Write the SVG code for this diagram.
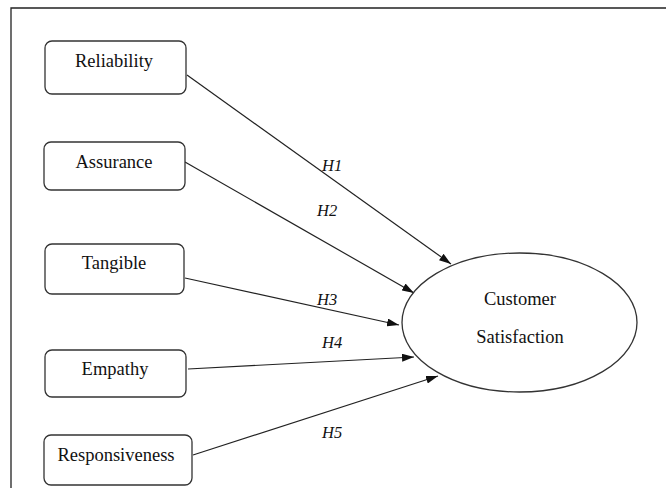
<svg xmlns="http://www.w3.org/2000/svg" width="666" height="488" viewBox="0 0 666 488">
<defs>
<marker id="arr" viewBox="0 0 12 8" refX="12" refY="4" markerWidth="12" markerHeight="8" markerUnits="userSpaceOnUse" orient="auto">
<path d="M0,0 L12,4 L0,8 Z" fill="#111"/>
</marker>
</defs>
<style>
.box{fill:#fff;stroke:#333;stroke-width:1.3}
.t{font-family:"Liberation Serif","Times New Roman",serif;font-size:18.5px;fill:#111;text-anchor:middle}
.h{font-family:"Liberation Serif","Times New Roman",serif;font-size:16.5px;font-style:italic;fill:#111}
.c{stroke:#222;stroke-width:1.2;fill:none;marker-end:url(#arr)}
</style>
<rect width="666" height="488" fill="#fff"/>
<path d="M11,488 L11,8 L666,8" fill="none" stroke="#222" stroke-width="1.3"/>
<g id="connectors">
<line class="c" x1="187" y1="75" x2="451" y2="264"/>
<line class="c" x1="185" y1="162" x2="414" y2="293"/>
<line class="c" x1="185" y1="278" x2="399" y2="325"/>
<line class="c" x1="188" y1="369" x2="414" y2="357"/>
<line class="c" x1="193" y1="455" x2="438" y2="376"/>
<text class="h" x="322" y="171">H1</text>
<text class="h" x="317" y="216">H2</text>
<text class="h" x="317" y="305">H3</text>
<text class="h" x="322" y="348">H4</text>
<text class="h" x="322" y="438">H5</text>
</g>
<g id="reliability">
<rect class="box" x="45" y="41" width="141" height="53" rx="7"/>
<text class="t" x="114" y="67">Reliability</text>
</g>
<g id="assurance">
<rect class="box" x="44" y="142" width="141" height="48" rx="7"/>
<text class="t" x="114" y="168">Assurance</text>
</g>
<g id="tangible">
<rect class="box" x="45" y="244" width="139" height="50" rx="7"/>
<text class="t" x="114" y="269">Tangible</text>
</g>
<g id="empathy">
<rect class="box" x="45" y="350" width="141" height="47" rx="7"/>
<text class="t" x="115" y="375">Empathy</text>
</g>
<g id="responsiveness">
<rect class="box" x="44" y="435" width="148" height="50" rx="7"/>
<text class="t" x="116" y="461">Responsiveness</text>
</g>
<g id="customer-satisfaction">
<ellipse cx="519.5" cy="322.5" rx="117.5" ry="69.5" fill="#fff" stroke="#333" stroke-width="1.3"/>
<text class="t" x="520" y="305">Customer</text>
<text class="t" x="520" y="343">Satisfaction</text>
</g>
</svg>
